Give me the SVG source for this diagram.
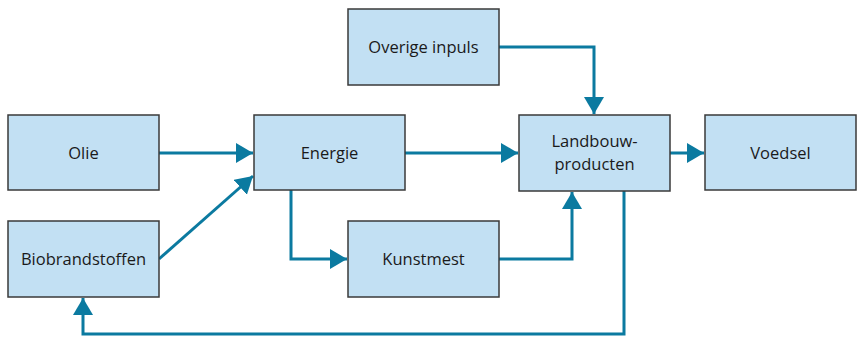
<svg xmlns="http://www.w3.org/2000/svg" width="857" height="337" viewBox="0 0 857 337">
<style>
.box{fill:#c2e0f3;stroke:#3a3a3a;stroke-width:1.5}
.lbl{font-family:"Open Sans","Noto Sans",sans-serif;font-size:16.5px;fill:#1a1a1a;text-anchor:middle}
.con{fill:none;stroke:#0b7aa0;stroke-width:3;marker-end:url(#ah)}
</style>
<defs>
<marker id="ah" markerUnits="userSpaceOnUse" markerWidth="20" markerHeight="22" refX="17" refY="10" orient="auto">
<path d="M0,0 L17,10 L0,20 Z" fill="#0b7aa0"/>
</marker>
</defs>
<rect width="857" height="337" fill="#ffffff"/>
<g id="connectors">
<path class="con" d="M159,153 L253,153"/>
<path class="con" d="M159,259 L253,176"/>
<path class="con" d="M405,153 L518,153"/>
<path class="con" d="M499,47 L594,47 L594,114"/>
<path class="con" d="M670,153 L704,153"/>
<path class="con" d="M291,190 L291,259 L347,259"/>
<path class="con" d="M499,259 L572,259 L572,192"/>
<path class="con" d="M624,191 L624,334 L83,334 L83,298"/>
</g>
<g id="olie"><rect class="box" x="8" y="115" width="151" height="75"/><text class="lbl" x="83.5" y="159">Olie</text></g>
<g id="biobrandstoffen"><rect class="box" x="8" y="221" width="151" height="76"/><text class="lbl" x="83.5" y="265">Biobrandstoffen</text></g>
<g id="energie"><rect class="box" x="254" y="115" width="151" height="75"/><text class="lbl" x="329.5" y="159">Energie</text></g>
<g id="overige"><rect class="box" x="348" y="9" width="151" height="76"/><text class="lbl" x="423.5" y="53">Overige inpuls</text></g>
<g id="kunstmest"><rect class="box" x="348" y="221" width="151" height="76"/><text class="lbl" x="423.5" y="265">Kunstmest</text></g>
<g id="landbouw"><rect class="box" x="519" y="115" width="151" height="76"/><text class="lbl" x="594.5" y="147">Landbouw-</text><text class="lbl" x="594.5" y="169.5">producten</text></g>
<g id="voedsel"><rect class="box" x="705" y="115" width="151" height="75"/><text class="lbl" x="780.5" y="159">Voedsel</text></g>
</svg>
